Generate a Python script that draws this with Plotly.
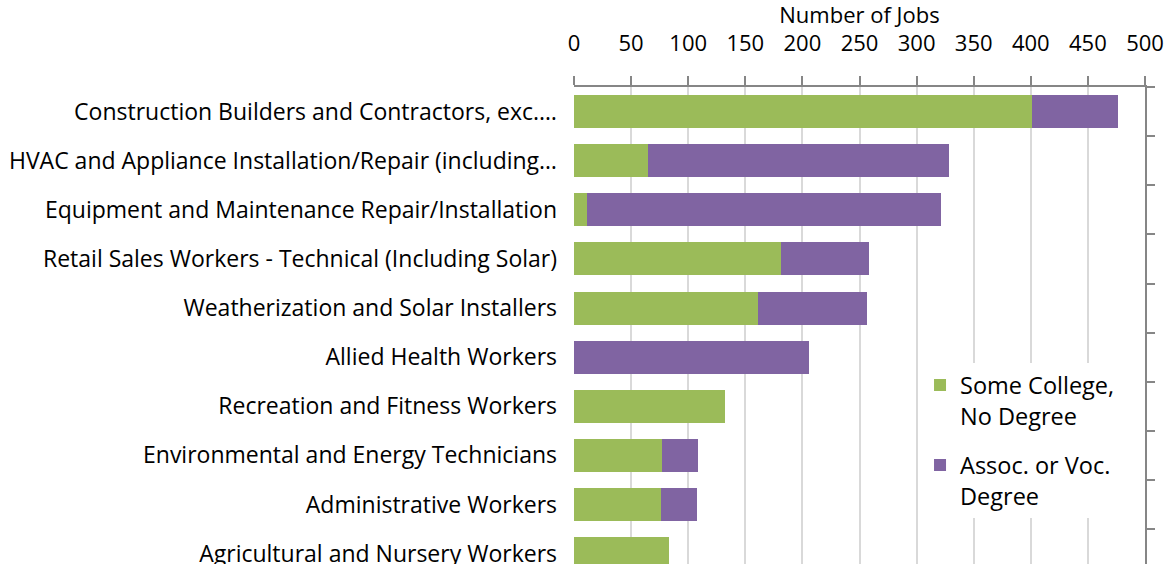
import plotly.graph_objects as go

categories = [
    "Construction Builders and Contractors, exc.…",
    "HVAC and Appliance Installation/Repair (including…",
    "Equipment and Maintenance Repair/Installation",
    "Retail Sales Workers - Technical (Including Solar)",
    "Weatherization and Solar Installers",
    "Allied Health Workers",
    "Recreation and Fitness Workers",
    "Environmental and Energy Technicians",
    "Administrative Workers",
    "Agricultural and Nursery Workers",
]
some_college = [401, 65, 11, 181, 161, 0, 132, 77, 76, 83]
assoc_voc = [75, 263, 310, 77, 96, 206, 0, 32, 32, 0]
x_ticks = [0, 50, 100, 150, 200, 250, 300, 350, 400, 450, 500]

GREEN = "#9BBB59"
PURPLE = "#8064A2"
FONT = "Open Sans"
FS = 22

fig = go.Figure()
fig.add_trace(go.Bar(
    y=categories, x=some_college, orientation="h", legendgroup="a",
    name="Some College,<br>No Degree", marker=dict(color=GREEN, line=dict(width=0)),
))
fig.add_trace(go.Bar(
    y=categories, x=assoc_voc, orientation="h", legendgroup="b",
    name="Assoc. or Voc.<br>Degree", marker=dict(color=PURPLE, line=dict(width=0)),
))
# invisible trace on overlay axis for right-side boundary ticks
fig.add_trace(go.Scatter(
    y=categories, x=[0] * len(categories), yaxis="y2", mode="markers",
    marker=dict(opacity=0), showlegend=False, hoverinfo="skip",
))

yrange = [9.21, -0.5]
fig.update_layout(
    width=1171, height=564,
    margin=dict(l=574, r=26, t=87, b=0),
    paper_bgcolor="white", plot_bgcolor="white",
    barmode="stack", bargap=0.33,
    font=dict(family=FONT, size=FS, color="black"),
    title=dict(
        text="Number of Jobs", font=dict(size=FS),
        xref="paper", x=0.5, xanchor="center",
        yref="container", y=1 - 15 / 564, yanchor="middle",
    ),
    xaxis=dict(
        side="top", range=[0, 500], tickvals=x_ticks, automargin=False,
        showgrid=True, gridcolor="#D9D9D9", gridwidth=1.5,
        zeroline=False, showline=True, linecolor="#868686", linewidth=1.5,
        ticks="outside", ticklen=9, tickcolor="#868686", tickwidth=1.5,
        tickfont=dict(size=FS), ticklabelstandoff=16,
    ),
    yaxis=dict(
        type="category", range=yrange, showgrid=False, zeroline=False,
        showline=False, ticks="", tickfont=dict(size=23), automargin=False,
        ticklabelstandoff=16,
    ),
    yaxis2=dict(
        type="category", overlaying="y", side="right", range=yrange,
        categoryarray=categories, categoryorder="array", automargin=False,
        showgrid=False, zeroline=False, showline=True, linecolor="#868686",
        linewidth=1.5, ticks="outside", ticklen=8, tickcolor="#868686",
        tickwidth=1.5, tickson="boundaries", showticklabels=False,
    ),
    legend=dict(
        x=0.606, y=0.421, xanchor="left", yanchor="top",
        bgcolor="white", font=dict(size=23.5), traceorder="grouped",
        tracegroupgap=16, valign="top", itemwidth=30,
    ),
)

fig.write_html(
    "out.html",
    config={"displayModeBar": False},
    post_script="document.body.style.margin='0';",
)
